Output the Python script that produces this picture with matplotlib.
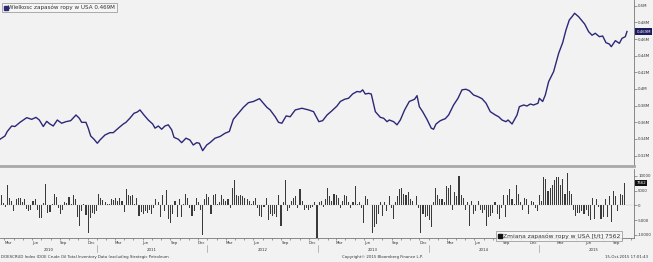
import pandas as pd
import numpy as np
import matplotlib
matplotlib.use('Agg')
import matplotlib.pyplot as plt
import matplotlib.dates as mdates
import matplotlib.transforms as mtransforms
from matplotlib.lines import Line2D

# poziom zapasow (decimal year, mln bbl / 1e3 -> "M")
line_t = [2010.123, 2010.168, 2010.189, 2010.229, 2010.259, 2010.304, 2010.365, 2010.410, 2010.449, 2010.479,
          2010.515, 2010.546, 2010.575, 2010.605, 2010.642, 2010.681, 2010.720, 2010.763, 2010.811, 2010.841,
          2010.862, 2010.901, 2010.922, 2010.944, 2010.974, 2011.004, 2011.028, 2011.073, 2011.118, 2011.148,
          2011.194, 2011.239, 2011.263, 2011.299, 2011.336, 2011.366, 2011.390, 2011.426, 2011.465, 2011.505,
          2011.526, 2011.556, 2011.586, 2011.616, 2011.646, 2011.677, 2011.698, 2011.737, 2011.767, 2011.806,
          2011.842, 2011.872, 2011.903, 2011.927, 2011.957, 2011.994, 2012.023, 2012.069, 2012.114, 2012.159,
          2012.198, 2012.234, 2012.280, 2012.325, 2012.370, 2012.415, 2012.470, 2012.506, 2012.537, 2012.566,
          2012.612, 2012.642, 2012.672, 2012.711, 2012.747, 2012.793, 2012.853, 2012.913, 2012.958, 2013.006,
          2013.040, 2013.080, 2013.125, 2013.170, 2013.200, 2013.239, 2013.275, 2013.311, 2013.351, 2013.381,
          2013.402, 2013.426, 2013.456, 2013.480, 2013.517, 2013.562, 2013.592, 2013.623, 2013.643, 2013.682,
          2013.713, 2013.743, 2013.782, 2013.824, 2013.872, 2013.894, 2013.915, 2013.945, 2013.984, 2014.023,
          2014.044, 2014.066, 2014.105, 2014.150, 2014.180, 2014.225, 2014.265, 2014.301, 2014.337, 2014.367,
          2014.406, 2014.446, 2014.482, 2014.519, 2014.557, 2014.603, 2014.633, 2014.663, 2014.699, 2014.718,
          2014.754, 2014.799, 2014.820, 2014.859, 2014.890, 2014.919, 2014.949, 2014.989, 2015.001, 2015.031,
          2015.055, 2015.085, 2015.130, 2015.176, 2015.212, 2015.242, 2015.272, 2015.297, 2015.320, 2015.356,
          2015.411, 2015.447, 2015.478, 2015.507, 2015.544, 2015.574, 2015.604, 2015.634, 2015.652, 2015.689,
          2015.725, 2015.749, 2015.779, 2015.794]
line_v = [0.3397, 0.3436, 0.3490, 0.3556, 0.3550, 0.3600, 0.3656, 0.3636, 0.3660, 0.3628,
          0.3550, 0.3612, 0.3580, 0.3556, 0.3628, 0.3589, 0.3608, 0.3620, 0.3688, 0.3649,
          0.3600, 0.3600, 0.3529, 0.3436, 0.3397, 0.3349, 0.3388, 0.3448, 0.3476, 0.3476,
          0.3530, 0.3580, 0.3600, 0.3650, 0.3709, 0.3724, 0.3749, 0.3688, 0.3628, 0.3580,
          0.3530, 0.3556, 0.3517, 0.3556, 0.3570, 0.3510, 0.3420, 0.3397, 0.3356, 0.3410,
          0.3388, 0.3328, 0.3356, 0.3349, 0.3260, 0.3328, 0.3356, 0.3410, 0.3430, 0.3469,
          0.3490, 0.3636, 0.3709, 0.3780, 0.3836, 0.3850, 0.3884, 0.3829, 0.3780, 0.3749,
          0.3667, 0.3600, 0.3589, 0.3677, 0.3667, 0.3749, 0.3769, 0.3749, 0.3728, 0.3608,
          0.3620, 0.3688, 0.3740, 0.3796, 0.3850, 0.3877, 0.3889, 0.3940, 0.3970, 0.3964,
          0.3990, 0.3940, 0.3948, 0.3940, 0.3728, 0.3660, 0.3649, 0.3608, 0.3628, 0.3608,
          0.3570, 0.3628, 0.3749, 0.3850, 0.3877, 0.3920, 0.3788, 0.3728, 0.3636, 0.3530,
          0.3517, 0.3580, 0.3620, 0.3644, 0.3688, 0.3808, 0.3889, 0.3990, 0.3997, 0.3980,
          0.3928, 0.3908, 0.3884, 0.3829, 0.3728, 0.3688, 0.3667, 0.3628, 0.3608, 0.3628,
          0.3580, 0.3688, 0.3788, 0.3808, 0.3796, 0.3820, 0.3808, 0.3829, 0.3889, 0.3850,
          0.3928, 0.4088, 0.4208, 0.4429, 0.4556, 0.4708, 0.4828, 0.4868, 0.4909, 0.4868,
          0.4780, 0.4688, 0.4645, 0.4669, 0.4628, 0.4636, 0.4556, 0.4540, 0.4508, 0.4580,
          0.4548, 0.4608, 0.4628, 0.4690]

# zmiana tydzien do tygodnia (tys. bbl), ostatni tydzien 2015-10-09
bars = [3000, 3500, 800, -500, 7000, 2500, 1500, -2000, 2000, 2500,
        2600, 1000, 2000, -1200, -1800, -1500, 1500, 2000, -1500, -4200,
        -4300, 700, 7200, -2600, -2300, 600, 3800, 2800, -1000, -2800,
        -1500, 1200, 800, 2800, 600, 3500, 2000, -3800, -7000, -1800,
        500, -3200, -9500, -4200, -2600, -3000, -1800, 3800, 2500, 1800,
        1200, 400, 300, 2000, 1800, 2500, 1500, 2500, 1500, -2200,
        5500, 3500, 3200, 3600, 300, 2500, -3500, -2200, -3000, -1800,
        -2500, -1500, -3000, -1000, 2000, 1000, -4000, 3500, -2000, 5200,
        -4500, -6000, -3000, 1500, -3800, 2000, -3800, 600, 4000, 2500,
        -1000, -3500, -2000, 2500, 1000, -1500, -10000, 2000, 3800, 2800,
        -2800, 3500, 3800, 500, 1000, 3500, 2000, 1500, 2000, -1000,
        6000, 8500, 3500, 3000, 3500, 3000, 2500, 2000, 1500, 500,
        1500, 2500, -1000, -3500, -4000, -500, 2500, -5000, -3000, -3500,
        -3000, -4000, 3500, -7000, 1000, 8500, -2000, -1000, 1500, 2500,
        3000, -1000, 5500, 1500, -1500, -1000, -1500, -1000, -500, 1000,
        -11000, 1000, 1500, -500, 2000, 6000, 3000, 1500, 4000, 3500,
        2500, -1000, 1500, 3500, 3000, 1000, -1000, 1000, 6500, 500,
        1000, -1000, -6000, 3000, 2000, 0, -9500, -7500, -6500, -3000,
        1000, -3500, 1000, -2000, 3000, -1000, -4500, 1000, 3000, 5500,
        6000, 4000, 3500, 4500, 2000, 1500, 0, 3000, -1000, -9500,
        -3000, -4000, -3500, -5000, -7500, 1000, 6000, 3500, 2000, 2000,
        1000, 6500, 6000, 7000, -1500, 4500, 3000, 10000, 3500, 2500,
        -1500, 1000, -7000, 1500, -3000, -2000, 1500, -1500, -2500, -1500,
        -7000, -4000, -3500, -2500, 1000, -3000, -4500, -1000, 3500, -4000,
        3500, 5500, 2000, 500, 7000, 4000, 1000, -1500, 2500, 2000,
        -3000, 1500, 1000, -1000, -2000, 3500, 1500, 9500, 9000, 5000,
        6000, 7000, 8500, 9500, 9500, 7000, 9000, 4000, 11000, 5000,
        4000, -1500, -3500, -2500, -2500, -2000, -3000, -1500, -3500, -5000,
        2500, -4500, 2000, -500, -4500, -4000, 2000, -4000, 3000, -5500,
        5000, 3000, -2000, 4000, 3500, 7562]

top_ticks = [0.32, 0.34, 0.36, 0.38, 0.40, 0.42, 0.44, 0.46, 0.48, 0.50]
top_labels = ['0.32M', '0.34M', '0.36M', '0.38M', '0.4M', '0.42M', '0.44M', '0.46M', '0.48M', '0.5M']
bot_ticks = [-10000, -5000, 0, 5000, 10000]
years = [2010, 2011, 2012, 2013, 2014, 2015]


def yr2date(t):
    y = int(t)
    start = pd.Timestamp(year=y, month=1, day=1)
    n = (pd.Timestamp(year=y + 1, month=1, day=1) - start).days
    return start + pd.Timedelta(days=(t - y) * n)


line_d = [yr2date(t) for t in line_t]
bar_d = pd.date_range(end='2015-10-09', periods=len(bars), freq='7D')

navy = '#2b2878'
bg = '#f2f2f2'
txt = '#333333'
x0, x1 = pd.Timestamp('2010-02-15'), pd.Timestamp('2015-11-10')

fig = plt.figure(figsize=(6.53, 2.62), dpi=100, facecolor=bg)
ax1 = fig.add_axes([0, 96 / 262, 634 / 653, 166 / 262])
ax2 = fig.add_axes([0, 24 / 262, 634 / 653, 69 / 262])

for ax in (ax1, ax2):
    ax.set_facecolor(bg)
    ax.set_xlim(x0, x1)
    ax.yaxis.tick_right()
    ax.spines['left'].set_visible(False)
    ax.spines['top'].set_visible(False)
    ax.spines['right'].set_color('#777777')
    ax.spines['right'].set_linewidth(0.6)
    ax.tick_params(axis='y', direction='out', length=2, width=0.4, colors='#555555',
                   labelsize=2.8, pad=1, labelcolor=txt)

# gorny panel
ax1.plot(line_d, line_v, color=navy, lw=1.0)
ax1.set_ylim(0.3076, 0.5068)
ax1.set_yticks(top_ticks)
ax1.set_yticklabels(top_labels)
ax1.set_xticks([])
ax1.spines['bottom'].set_color('#a8a8a8')
ax1.spines['bottom'].set_linewidth(2)

tr1 = mtransforms.blended_transform_factory(ax1.transAxes, ax1.transData)
ax1.text(1.004, line_v[-1], '%.3fM' % line_v[-1], transform=tr1, ha='left', va='center',
         fontsize=2.8, color='white', bbox=dict(facecolor='#1c1a5e', edgecolor='none', pad=0.8))

h1 = Line2D([], [], marker='s', ls='', color=navy, markersize=2.6)
leg1 = ax1.legend([h1], ['Wielkosc zapasów ropy w USA 0.469M'], loc='upper left',
                  bbox_to_anchor=(2 / 653, 1 - 3 / 262), bbox_transform=fig.transFigure,
                  fontsize=4.1, frameon=True, fancybox=False, borderpad=0.35, handlelength=0.6,
                  handletextpad=0.15, borderaxespad=0)
leg1.get_frame().set_edgecolor('#8a8a8a')
leg1.get_frame().set_facecolor('#f6f6f6')
leg1.get_frame().set_linewidth(0.6)
for t in leg1.get_texts():
    t.set_color(txt)

# dolny panel
ax2.bar(bar_d, bars, width=3.6, color='#3a3a3a', linewidth=0)
ax2.axhline(0, color='#9a9a9a', lw=0.3, ls=':')
ax2.set_ylim(-11100, 12340)
ax2.set_yticks(bot_ticks)
ax2.set_yticklabels([str(v) for v in bot_ticks])
ax2.spines['bottom'].set_color('#777777')
ax2.spines['bottom'].set_linewidth(0.6)

ax2.xaxis.set_major_locator(mdates.MonthLocator(bymonth=[3, 6, 9, 12]))
ax2.xaxis.set_minor_locator(mdates.MonthLocator())
ax2.xaxis.set_major_formatter(mdates.DateFormatter('%b'))
ax2.tick_params(axis='x', which='both', direction='out', length=1.5, width=0.4, colors='#555555',
                labelsize=2.8, pad=0.8, labelcolor=txt)
for lab in ax2.get_xticklabels():
    lab.set_ha('left')

tr2 = mtransforms.blended_transform_factory(ax2.transData, ax2.transAxes)
for y in years:
    if y == 2010:
        xm = x0 + (pd.Timestamp('2011-01-01') - x0) / 2
    else:
        xm = pd.Timestamp(year=y, month=7, day=1)
    ax2.text(xm, -0.15, str(y), transform=tr2, ha='center', va='top', fontsize=2.8, color=txt)
    if y > 2010:
        ax2.plot([pd.Timestamp(year=y, month=1, day=1)] * 2, [-0.1, -0.2], transform=tr2,
                 color='#888888', lw=0.4, clip_on=False)

tr2y = mtransforms.blended_transform_factory(ax2.transAxes, ax2.transData)
ax2.text(1.004, bars[-1], str(bars[-1]), transform=tr2y, ha='left', va='center',
         fontsize=2.8, color='white', bbox=dict(facecolor='#111111', edgecolor='none', pad=0.8))

h2 = Line2D([], [], marker='s', ls='', color='#111111', markersize=2.8)
leg2 = ax2.legend([h2], ['Zmiana zapasów ropy w USA [t/t] 7562'], loc='lower left',
                  bbox_to_anchor=(496 / 653, 21 / 262), bbox_transform=fig.transFigure,
                  fontsize=4.3, frameon=True, fancybox=False, borderpad=0.35, handlelength=0.6,
                  handletextpad=0.15, borderaxespad=0)
leg2.get_frame().set_edgecolor('#8a8a8a')
leg2.get_frame().set_facecolor('#f6f6f6')
leg2.get_frame().set_linewidth(0.6)
for t in leg2.get_texts():
    t.set_color(txt)

# stopka
fig.text(1 / 653, 5 / 262, 'DOESCRUD Index (DOE Crude Oil Total Inventory Data (excluding Strategic Petroleum',
         fontsize=2.8, color=txt, ha='left', va='center')
fig.text(382 / 653, 5 / 262, 'Copyright© 2015 Bloomberg Finance L.P.', fontsize=2.8, color=txt,
         ha='center', va='center')
fig.text(648 / 653, 5 / 262, '15-Oct-2015 17:01:43', fontsize=2.8, color=txt, ha='right', va='center')

fig.savefig('out.png', dpi=100, facecolor=bg)
